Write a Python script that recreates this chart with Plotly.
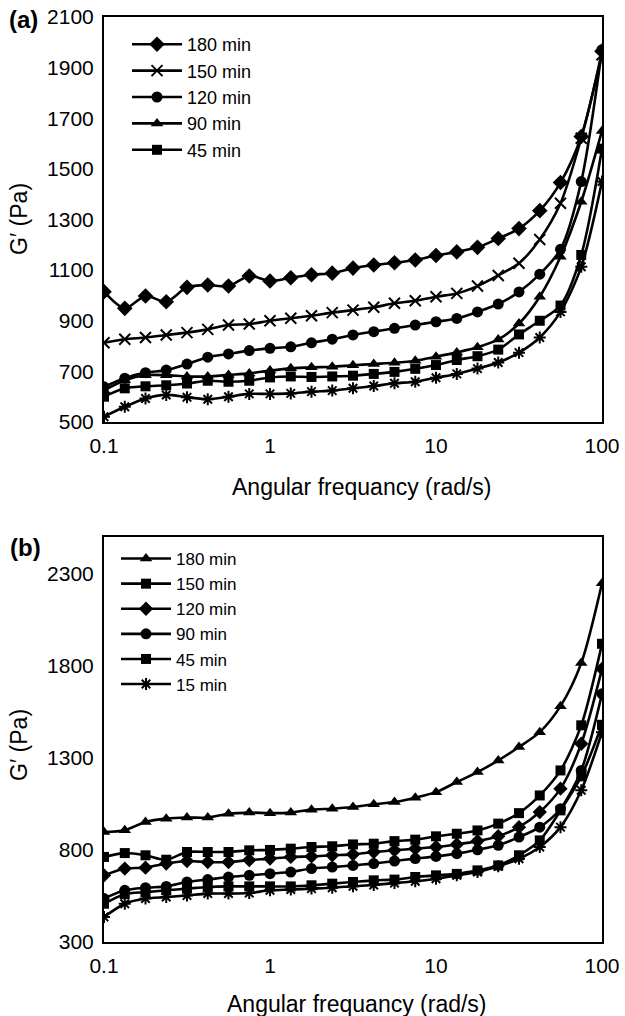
import plotly.graph_objects as go

# Angular frequency sweep (rad/s), 8 points per decade
freq = [0.1, 0.1334, 0.1778, 0.2371, 0.3162, 0.4217, 0.5623, 0.7499,
        1.0, 1.334, 1.778, 2.371, 3.162, 4.217, 5.623, 7.499,
        10.0, 13.34, 17.78, 23.71, 31.62, 42.17, 56.23, 74.99, 100.0]

# Panel (a): storage modulus G' (Pa)
a_labels = ["180 min", "150 min", "120 min", "90 min", "45 min", "15 min"]
a_180 = [1015, 949, 998, 975, 1032, 1041, 1037, 1077, 1057, 1070, 1082, 1088, 1108,
         1120, 1129, 1140, 1158, 1172, 1190, 1225, 1264, 1335, 1446, 1628, 1965]
a_150 = [813, 827, 834, 844, 853, 866, 883, 887, 900, 910, 920, 932, 942,
         953, 969, 979, 995, 1008, 1037, 1079, 1127, 1221, 1364, 1621, 1951]
a_120 = [639, 673, 695, 705, 729, 756, 769, 782, 791, 797, 813, 827, 844,
         857, 870, 883, 896, 909, 935, 966, 1014, 1084, 1182, 1450, 1971]
a_90 = [625, 665, 685, 685, 680, 680, 686, 692, 703, 712, 716, 718, 724,
        729, 734, 742, 758, 775, 795, 826, 889, 995, 1153, 1370, 1650]
a_45 = [600, 633, 641, 645, 652, 663, 659, 663, 676, 680, 678, 680, 683,
        690, 698, 710, 725, 745, 760, 786, 846, 900, 960, 1160, 1580]
a_15 = [521, 560, 593, 607, 598, 590, 600, 611, 611, 613, 620, 624, 633,
        642, 653, 659, 675, 690, 711, 735, 774, 834, 935, 1113, 1450]

# Panel (b): storage modulus G' (Pa)
b_labels = ["180 min", "150 min", "120 min", "90 min", "45 min", "15 min"]
b_180 = [897, 907, 952, 970, 976, 976, 997, 1003, 1000, 1003, 1019, 1024, 1033,
         1048, 1060, 1084, 1114, 1169, 1223, 1286, 1359, 1440, 1581, 1815, 2249]
b_150 = [762, 783, 771, 747, 789, 789, 789, 798, 800, 807, 816, 820, 830,
         834, 848, 856, 874, 888, 906, 943, 1000, 1096, 1232, 1477, 1920]
b_120 = [662, 699, 704, 726, 740, 734, 734, 745, 753, 762, 765, 771, 776,
         789, 798, 807, 816, 830, 848, 875, 924, 1006, 1133, 1377, 1784]
b_90 = [536, 581, 595, 602, 626, 639, 653, 662, 671, 680, 699, 707, 716,
        726, 740, 753, 765, 780, 801, 825, 870, 924, 1024, 1232, 1648]
b_45 = [508, 560, 571, 581, 590, 599, 602, 602, 602, 602, 608, 617, 626,
        635, 639, 653, 662, 670, 689, 716, 771, 852, 1015, 1200, 1480]
b_15 = [436, 508, 536, 544, 553, 563, 563, 566, 581, 585, 590, 595, 603,
        610, 620, 630, 644, 662, 680, 711, 752, 816, 924, 1124, 1440]

y_ticks_a = [500, 700, 900, 1100, 1300, 1500, 1700, 1900, 2100]
y_ticks_b = [300, 800, 1300, 1800, 2300]
x_ticks = [0.1, 1, 10, 100]
x_ticktext = ["0.1", "1", "10", "100"]

W, H = 625, 1016
FONT = "Liberation Sans, Arial, sans-serif"
BLACK = "#000000"


def marker_style(symbol, size):
    open_sym = symbol.endswith("-open")
    return dict(symbol=symbol, size=size, color=BLACK,
                line=dict(color=BLACK, width=2 if open_sym else 0))


fig = go.Figure()

a_series = [
    (a_180, "diamond", 12, True),
    (a_150, "x-thin-open", 11, True),
    (a_120, "circle", 11, True),
    (a_90, "triangle-up", 11, True),
    (a_45, "square", 10, True),
    (a_15, "asterisk-open", 10, False),
]
for (vals, sym, size, show), name in zip(a_series, a_labels):
    fig.add_trace(go.Scatter(
        x=freq, y=vals, name=name, mode="lines+markers",
        line=dict(color=BLACK, width=2.6, shape="spline", smoothing=0.8),
        marker=marker_style(sym, size), showlegend=show,
        legend="legend", xaxis="x", yaxis="y"))

b_series = [
    (b_180, "triangle-up", 11),
    (b_150, "square", 10),
    (b_120, "diamond", 11),
    (b_90, "circle", 11),
    (b_45, "square", 10),
    (b_15, "asterisk-open", 10),
]
for (vals, sym, size), name in zip(b_series, b_labels):
    fig.add_trace(go.Scatter(
        x=freq, y=vals, name=name, mode="lines+markers",
        line=dict(color=BLACK, width=2.6, shape="spline", smoothing=0.8),
        marker=marker_style(sym, size),
        legend="legend2", xaxis="x2", yaxis="y2"))

x_dom = [104 / W, 602 / W]
axis_common = dict(showline=True, linecolor=BLACK, linewidth=2, mirror=True,
                   showgrid=False, zeroline=False, ticks="", automargin=False,
                   tickfont=dict(family=FONT, size=21, color=BLACK),
                   ticklabelstandoff=4)

fig.update_layout(
    width=W, height=H,
    margin=dict(l=0, r=0, t=0, b=0, pad=0, autoexpand=False),
    paper_bgcolor="white", plot_bgcolor="white",
    font=dict(family=FONT, color=BLACK),
    xaxis=dict(axis_common, type="log", domain=x_dom, anchor="y",
               range=[-1, 2], tickvals=x_ticks, ticktext=x_ticktext),
    yaxis=dict(axis_common, domain=[1 - 422 / H, 1 - 17 / H], anchor="x",
               range=[500, 2100], tickvals=y_ticks_a),
    xaxis2=dict(axis_common, type="log", domain=x_dom, anchor="y2",
                range=[-1, 2], tickvals=x_ticks, ticktext=x_ticktext),
    yaxis2=dict(axis_common, domain=[1 - 942 / H, 1 - 537 / H], anchor="x2",
                range=[300, 2500], tickvals=y_ticks_b),
    legend=dict(x=127 / W, y=1 - 26 / H, xanchor="left", yanchor="top",
                bgcolor="rgba(0,0,0,0)", font=dict(family=FONT, size=18, color=BLACK),
                itemwidth=50, tracegroupgap=0),
    legend2=dict(x=116 / W, y=1 - 541 / H, xanchor="left", yanchor="top",
                 bgcolor="rgba(0,0,0,0)", font=dict(family=FONT, size=17, color=BLACK),
                 itemwidth=50, tracegroupgap=0),
    showlegend=True,
)

title_font = dict(family=FONT, size=23, color=BLACK)
annotations = [
    dict(text="Angular frequancy (rad/s)", x=362 / W, y=1 - 487 / H, font=title_font),
    dict(text="Angular frequancy (rad/s)", x=357 / W, y=1 - 1004 / H, font=title_font),
    dict(text="G′ (Pa)", x=19 / W, y=1 - 219 / H, textangle=-90, font=title_font),
    dict(text="G′ (Pa)", x=19 / W, y=1 - 745 / H, textangle=-90, font=title_font),
    dict(text="<b>(a)</b>", x=24 / W, y=1 - 20 / H,
         font=dict(family=FONT, size=24, color=BLACK)),
    dict(text="<b>(b)</b>", x=25 / W, y=1 - 547 / H,
         font=dict(family=FONT, size=24, color=BLACK)),
]
for ann in annotations:
    fig.add_annotation(xref="paper", yref="paper", showarrow=False,
                       xanchor="center", yanchor="middle", **ann)

fig.write_html("out.html")
